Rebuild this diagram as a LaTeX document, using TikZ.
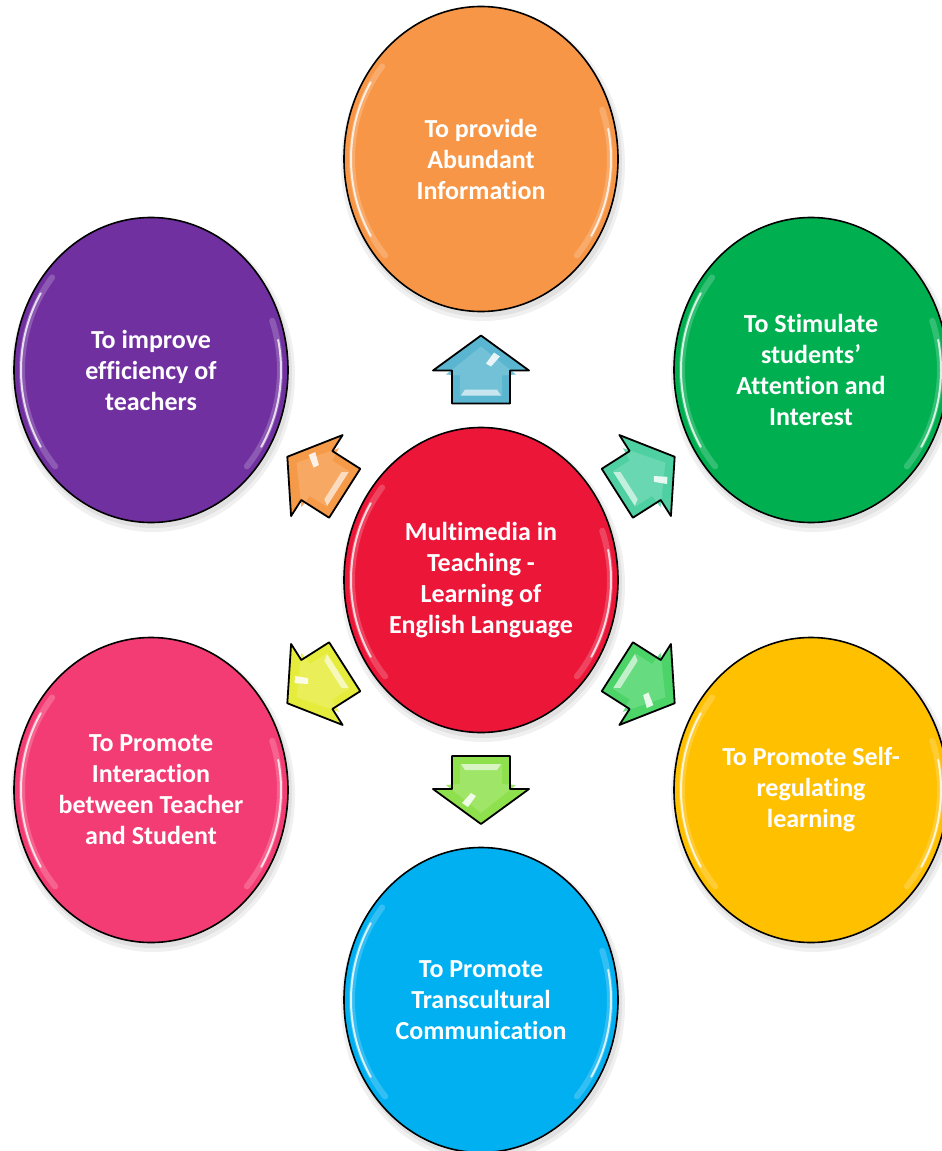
\documentclass[tikz,border=0pt]{standalone}
\usepackage{fontspec}
\setmainfont{Carlito}[Ligatures=NoCommon]
\usetikzlibrary{shapes.geometric,calc}
\definecolor{cOrange}{HTML}{F79646}
\definecolor{cGreen}{HTML}{00B050}
\definecolor{cPurple}{HTML}{7030A0}
\definecolor{cRed}{HTML}{EC1639}
\definecolor{cPink}{HTML}{F43C74}
\definecolor{cYellow}{HTML}{FFC000}
\definecolor{cBlue}{HTML}{00B0F0}
\definecolor{aBlue}{HTML}{5AB6D0}
\definecolor{aOrange}{HTML}{F59A48}
\definecolor{aTeal}{HTML}{4FD0A3}
\definecolor{aYellow}{HTML}{E6EC3C}
\definecolor{aGreen}{HTML}{4CD468}
\definecolor{aLime}{HTML}{8EE04C}
\tikzset{
  bubble/.style={ellipse, draw=black, line width=1.6pt, minimum width=274pt,
    minimum height=305pt, inner sep=0pt, text=white, align=center,
    font=\fontsize{26}{31}\selectfont\bfseries},
  glow/.style={white, line cap=round},
}
\newcommand\gloss[1]{%
  \begin{scope}[shift={(#1.center)}]
    \draw[glow, line width=6pt, opacity=0.2] (140:129pt and 144pt) arc[start angle=140, end angle=222, x radius=129pt, y radius=144pt];
    \draw[glow, line width=2pt, opacity=0.8] (148:130pt and 145pt) arc[start angle=148, end angle=212, x radius=130pt, y radius=145pt];
    \draw[glow, line width=6pt, opacity=0.2] (-42:129pt and 144pt) arc[start angle=-42, end angle=20, x radius=129pt, y radius=144pt];
    \draw[glow, line width=2pt, opacity=0.8] (-32:130pt and 145pt) arc[start angle=-32, end angle=12, x radius=130pt, y radius=145pt];
  \end{scope}}
\newcommand\shadowat[1]{%
  \fill[black, opacity=0.06] ($(#1)+(2,-5)$) ellipse[x radius=142pt, y radius=157pt];
  \fill[black, opacity=0.06] ($(#1)+(2,-4)$) ellipse[x radius=139pt, y radius=154pt];}
\newcommand\barrow[2]{%
  \pgfmathanglebetweenpoints{\pgfpointanchor{ctr}{center}}{\pgfpointanchor{#1}{center}}%
  \edef\barang{\pgfmathresult}%
  \begin{scope}[shift={($(ctr.center)!0.5!(#1.center)$)}, rotate=\barang]
    \fill[#2] (34,0) -- (-1,48) -- (-1,29) -- (-34,29) -- (-34,-29) -- (-1,-29) -- (-1,-48) -- cycle;
    \fill[#2!85!white] (23,0) -- (-5,35) -- (-6,21) -- (-26,21) -- (-26,-21) -- (-6,-21) -- (-5,-35) -- cycle;
    \fill[white, opacity=0.85] (6,-5) -- (17,-13) -- (13,-19) -- (3,-10) -- cycle;
    \fill[white, opacity=0.6] (-20,16) -- (-20,-16) -- (-26,-20) -- (-26,20) -- cycle;
    \draw[black, line width=1.8pt, line join=round] (34,0) -- (-1,48) -- (-1,29) -- (-34,29) -- (-34,-29) -- (-1,-29) -- (-1,-48) -- cycle;
  \end{scope}}
\begin{document}
\begin{tikzpicture}[x=1pt, y=1pt]
  \useasboundingbox (0,0) rectangle (942,-1151);
  \clip (0,0) rectangle (942,-1151);
  \fill[white] (0,0) rectangle (942,-1151);
  \coordinate (pInfo) at (481,-159);
  \coordinate (pEff) at (151,-370);
  \coordinate (pStim) at (811,-370);
  \coordinate (pCtr) at (481,-580);
  \coordinate (pInter) at (151,-790);
  \coordinate (pSelf) at (811,-790);
  \coordinate (pTrans) at (481,-1000);
  \foreach \p in {pInfo,pEff,pStim,pCtr,pInter,pSelf,pTrans} {\shadowat{\p}}
  \node[bubble, fill=cOrange] (info) at (pInfo) {To provide\\Abundant\\Information};
  \node[bubble, fill=cPurple] (eff) at (pEff) {To improve\\efficiency of\\teachers};
  \node[bubble, fill=cGreen] (stim) at (pStim) {To Stimulate\\students’\\Attention and\\Interest};
  \node[bubble, fill=cRed] (ctr) at (pCtr) {Multimedia in\\Teaching -\\Learning of\\English Language};
  \node[bubble, fill=cPink] (inter) at (pInter) {To Promote\\Interaction\\between Teacher\\and Student};
  \node[bubble, fill=cYellow] (self) at (pSelf) {To Promote Self-\\regulating\\learning};
  \node[bubble, fill=cBlue] (trans) at (pTrans) {To Promote\\Transcultural\\Communication};
  \foreach \n in {info,eff,stim,ctr,inter,self,trans} {\gloss{\n}}
  \barrow{info}{aBlue}
  \barrow{eff}{aOrange}
  \barrow{stim}{aTeal}
  \barrow{inter}{aYellow}
  \barrow{self}{aGreen}
  \barrow{trans}{aLime}
\end{tikzpicture}
\end{document}
